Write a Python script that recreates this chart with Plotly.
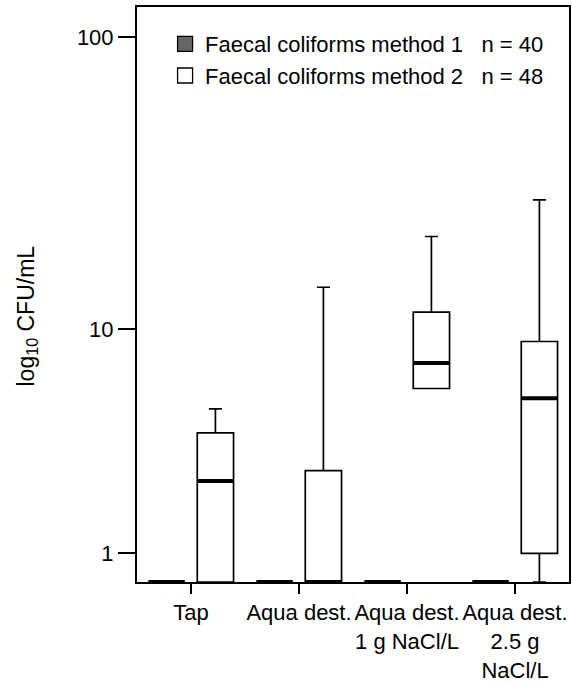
import numpy as np
import plotly.graph_objects as go

# ---------------- data (CFU/mL) ----------------
categories = ["Tap", "Aqua dest.", "Aqua dest.<br>1 g NaCl/L", "Aqua dest.<br>2.5 g<br>NaCl/L"]
floor_value = 0.61  # detection floor (bottom of axis)

m1_lower = [0.61, 0.61, 0.61, 0.61]
m1_q1 = [0.61, 0.61, 0.61, 0.61]
m1_median = [0.61, 0.61, 0.61, 0.61]
m1_q3 = [0.61, 0.61, 0.61, 0.61]
m1_upper = [0.61, 0.61, 0.61, 0.61]

m2_lower = [0.61, 0.61, 6.0, 0.61]
m2_q1 = [0.61, 0.61, 6.0, 1.0]
m2_median = [2.47, 0.61, 7.5, 5.5]
m2_q3 = [4.0, 2.75, 11.5, 9.0]
m2_upper = [5.0, 14.1, 21.2, 28.3]

legend_names = ["Faecal coliforms method 1\u00a0\u00a0\u00a0n = 40",
                "Faecal coliforms method 2\u00a0\u00a0\u00a0n = 48"]
fill_colors = ["#666666", "#ffffff"]

y_tick_values = [1, 10, 100]
y_tick_labels = ["1", "10", "100"]


def tr(v):
    return np.log10(np.asarray(v, dtype=float) + 1.0)


offset = 0.226
box_w = 0.336
family = "Liberation Sans, Arial, sans-serif"
font = dict(family=family, size=22, color="black")
legend_font = dict(family=family, size=22, color="black")
title_font = dict(family=family, size=23, color="black")

fig = go.Figure()
series = [
    (m1_lower, m1_q1, m1_median, m1_q3, m1_upper, -offset),
    (m2_lower, m2_q1, m2_median, m2_q3, m2_upper, offset),
]
xs = np.arange(len(categories))
for k, (lo, q1, med, q3, up, off) in enumerate(series):
    pos = xs + off
    fig.add_trace(go.Box(
        x=pos, q1=tr(q1), median=tr(med), q3=tr(q3),
        lowerfence=tr(lo), upperfence=tr(up),
        width=box_w, whiskerwidth=0.36,
        fillcolor=fill_colors[k], line=dict(color="black", width=1.7),
        boxpoints=False, showlegend=False, hoverinfo="skip",
    ))
    # thick median lines
    mx, my = [], []
    for p, m in zip(pos, tr(med)):
        mx += [p - box_w / 2, p + box_w / 2, None]
        my += [m, m, None]
    fig.add_trace(go.Scatter(x=mx, y=my, mode="lines",
                             line=dict(color="black", width=4),
                             showlegend=False, hoverinfo="skip"))
    # legend entry
    fig.add_trace(go.Scatter(x=[None], y=[None], mode="markers",
                             marker=dict(symbol="square", size=15, color=fill_colors[k],
                                         line=dict(color="black", width=1.3)),
                             name=legend_names[k], showlegend=True))

ymin = tr(floor_value)
ymax = tr(100) + 0.099

fig.update_layout(
    width=572, height=686,
    margin=dict(l=137, r=1, t=7, b=104),
    paper_bgcolor="white", plot_bgcolor="white",
    font=font,
    showlegend=True,
    legend=dict(x=0.065, y=0.972, xanchor="left", yanchor="top",
                bgcolor="rgba(0,0,0,0)", font=legend_font, tracegroupgap=0),
    xaxis=dict(range=[-0.5, len(categories) - 0.5], tickvals=list(xs), ticktext=categories,
               showline=True, linecolor="black", linewidth=2, mirror=True,
               ticks="outside", ticklen=10, tickwidth=1.6, tickcolor="black",
               showgrid=False, zeroline=False, tickfont=font),
    yaxis=dict(range=[float(ymin), float(ymax)], tickvals=list(tr(y_tick_values)),
               ticktext=y_tick_labels,
               showline=True, linecolor="black", linewidth=2, mirror=True,
               ticks="outside", ticklen=17, tickwidth=1.6, tickcolor="black",
               showgrid=False, zeroline=False, tickfont=font),
    annotations=[dict(text="log<sub>10</sub> CFU/mL", textangle=-90, showarrow=False,
                      xref="paper", yref="paper", x=(27 - 137) / 434, y=(582 - 316) / 575,
                      xanchor="center", yanchor="middle", font=title_font)],
)

fig.write_html("out.html")
